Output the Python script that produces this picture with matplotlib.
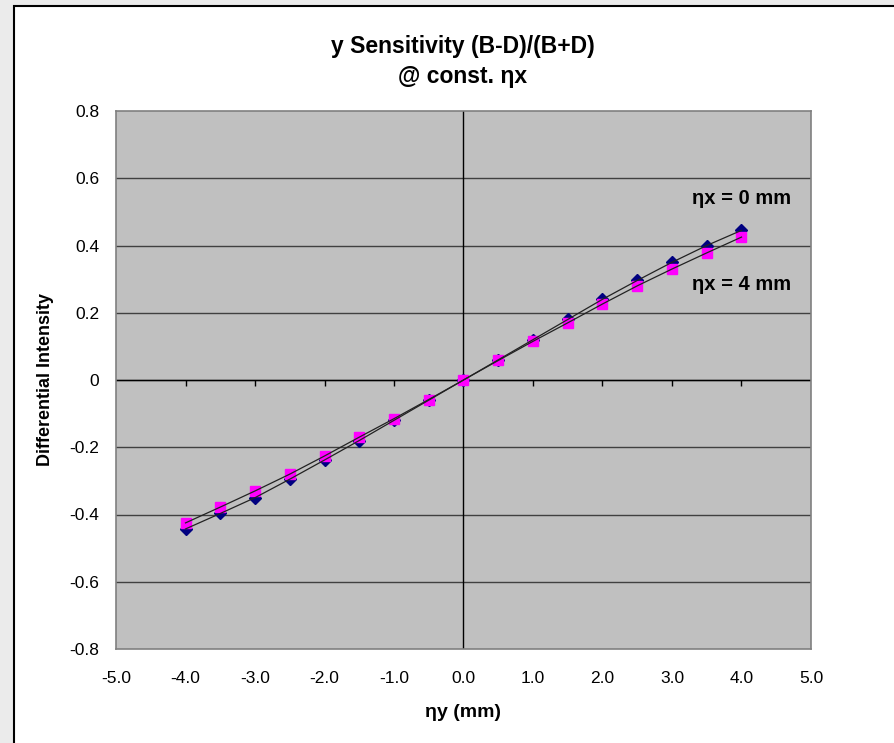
#!/usr/bin/env python

import numpy as np
import matplotlib
matplotlib.use('Agg')
import matplotlib.pyplot as plt
from matplotlib.patches import Rectangle

plt.rcParams['font.family'] = ['Liberation Sans', 'DejaVu Sans']

# eta-y positions (mm)
eta_y = [-4.0, -3.5, -3.0, -2.5, -2.0, -1.5, -1.0, -0.5, 0.0,
         0.5, 1.0, 1.5, 2.0, 2.5, 3.0, 3.5, 4.0]
# differential intensity at eta-x = 0 mm
diff_x0 = [-0.443, -0.397, -0.350, -0.295, -0.238, -0.180, -0.120, -0.060, 0.0,
           0.060, 0.120, 0.180, 0.240, 0.296, 0.350, 0.400, 0.445]
# differential intensity at eta-x = 4 mm
diff_x4 = [-0.425, -0.378, -0.330, -0.280, -0.226, -0.170, -0.115, -0.058, 0.0,
           0.058, 0.115, 0.170, 0.226, 0.280, 0.330, 0.378, 0.425]

xticks = [-5.0, -4.0, -3.0, -2.0, -1.0, 0.0, 1.0, 2.0, 3.0, 4.0, 5.0]
yticks = [-0.8, -0.6, -0.4, -0.2, 0, 0.2, 0.4, 0.6, 0.8]
ylabels = ['-0.8', '-0.6', '-0.4', '-0.2', '0', '0.2', '0.4', '0.6', '0.8']

fig = plt.figure(figsize=(8.94, 7.43), dpi=100, facecolor='#ebebeb')
# white chart panel with black border
fig.patches.append(Rectangle((14 / 894, -0.05), 1.0, 1 - 6 / 743 + 0.05,
                             transform=fig.transFigure, facecolor='white',
                             edgecolor='black', linewidth=1.5, zorder=-10))

ax = fig.add_axes([116 / 894, 1 - 649 / 743, 695 / 894, 538 / 743])
ax.set_zorder(2)
ax.set_facecolor('#c0c0c0')
ax.set_xlim(-5, 5)
ax.set_ylim(-0.8, 0.8)
for s in ax.spines.values():
    s.set_color('#808080')
    s.set_linewidth(1.2)

for y in yticks[1:-1]:
    ax.axhline(y, color='#404040', linewidth=1, zorder=1)
ax.axhline(0, color='black', linewidth=1, zorder=1)
ax.axvline(0, color='black', linewidth=1, zorder=1)
ax.vlines(xticks[1:-1], -0.018, 0, color='black', linewidth=1, zorder=1)

ax.plot(eta_y, diff_x0, linestyle='none', marker='D', markersize=6,
        color='#000080', zorder=3)
ax.plot(eta_y, diff_x4, linestyle='none', marker='s', markersize=7,
        color='#ff00ff', zorder=4)
ax.plot(eta_y, diff_x0, color='#222222', linewidth=0.9, zorder=5)
ax.plot(eta_y, diff_x4, color='#222222', linewidth=0.9, zorder=5)

ax.set_xticks(xticks)
ax.set_xticklabels(['%.1f' % v for v in xticks])
ax.set_yticks(yticks)
ax.set_yticklabels(ylabels)
ax.tick_params(axis='both', length=0, labelsize=12.5)
ax.tick_params(axis='x', pad=16)
ax.tick_params(axis='y', pad=12)

ax.set_xlabel('\u03b7y (mm)', fontsize=14, fontweight='bold', labelpad=13)
ax.set_ylabel('Differential Intensity', fontsize=13, fontweight='bold', labelpad=11)

fig.text(463 / 894, 1 - 46 / 743, 'y Sensitivity (B-D)/(B+D)', fontsize=16.5,
         fontweight='bold', ha='center', va='center')
fig.text(463 / 894, 1 - 77 / 743, '@ const. \u03b7x', fontsize=16.5,
         fontweight='bold', ha='center', va='center')

ax.text(4.72, 0.54, '\u03b7x = 0 mm', fontsize=14.5, fontweight='bold',
        ha='right', va='center')
ax.text(4.72, 0.285, '\u03b7x = 4 mm', fontsize=14.5, fontweight='bold',
        ha='right', va='center')

fig.savefig('out.png', dpi=100, facecolor=fig.get_facecolor())
